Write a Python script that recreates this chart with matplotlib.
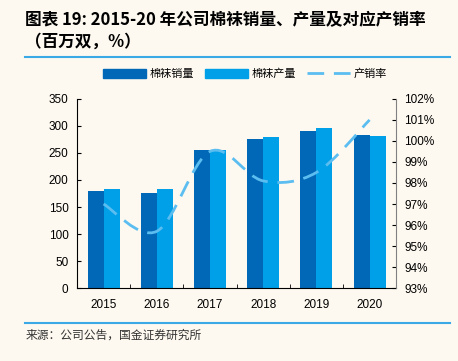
import matplotlib.pyplot as plt
import numpy as np
from matplotlib.path import Path
from matplotlib.patches import PathPatch
from matplotlib.lines import Line2D

plt.rcParams['font.family'] = ['Liberation Sans', 'Noto Sans CJK SC', 'DejaVu Sans']

years = ['2015', '2016', '2017', '2018', '2019', '2020']
sales = [180, 175, 255, 275, 291, 284]
output = [184, 184, 256, 280, 296, 282]
rate = [97.0, 95.7, 99.5, 98.1, 98.5, 101.0]

bg = '#fdf9f0'
c_sales = '#0068b7'
c_out = '#00a0e9'
c_rate = '#5bbdf0'

fig = plt.figure(figsize=(4.58, 3.61), dpi=100, facecolor=bg)
ax = fig.add_axes([0.168, 0.202, 0.697, 0.524], facecolor=bg)
ax2 = ax.twinx()

x = np.arange(len(years))
w = 0.3
ax.bar(x - w / 2, sales, w, color=c_sales, label='棉袜销量')
ax.bar(x + w / 2, output, w, color=c_out, label='棉袜产量')

ax.set_xlim(-0.5, len(years) - 0.5)
ax.set_ylim(0, 350)
ax.set_yticks(range(0, 351, 50))
ax.set_xticks(x)
ax.set_xticklabels(years)
ax.set_xticks(np.arange(0.5, len(years) - 1, 1), minor=True)
ax.tick_params(axis='x', which='major', length=0, pad=8, labelsize=8.5)
ax.tick_params(axis='x', which='minor', length=3, direction='in')
ax.tick_params(axis='y', length=3, direction='in', labelsize=8.5, pad=6)
for s in ['top', 'right']:
    ax.spines[s].set_visible(False)

# smooth rate line through the points (Catmull-Rom as cubic Bezier)
pts = np.column_stack([x, rate]).astype(float)
verts = [pts[0]]
codes = [Path.MOVETO]
for i in range(len(pts) - 1):
    p0 = pts[max(i - 1, 0)]
    p1 = pts[i]
    p2 = pts[i + 1]
    p3 = pts[min(i + 2, len(pts) - 1)]
    verts += [p1 + (p2 - p0) / 6, p2 - (p3 - p1) / 6, p2]
    codes += [Path.CURVE4] * 3
ax2.add_patch(PathPatch(Path(verts, codes), fill=False, edgecolor=c_rate,
                        lw=2, linestyle=(0, (6, 3.5))))
ax2.set_ylim(93, 102)
ax2.set_yticks(range(93, 103))
ax2.set_yticklabels([f'{v}%' for v in range(93, 103)])
ax2.tick_params(axis='y', length=3, direction='in', labelsize=8.5, pad=6)
for s in ['top', 'left', 'bottom']:
    ax2.spines[s].set_visible(False)
ax2.spines['right'].set_color('#808080')

handles = [plt.Rectangle((0, 0), 1, 1, color=c_sales),
           plt.Rectangle((0, 0), 1, 1, color=c_out),
           Line2D([0], [0], color=c_rate, lw=2, linestyle=(0, (6, 3.5)))]
fig.legend(handles, ['棉袜销量', '棉袜产量', '产销率'], loc='center',
           bbox_to_anchor=(0.535, 0.795), ncol=3, frameon=False,
           handlelength=3.9, handleheight=0.8,
           columnspacing=1.0, handletextpad=0.3,
           prop={'family': ['Noto Sans CJK SC'], 'size': 8})

fig.text(0.055, 0.945, '图表 19: 2015-20 年公司棉袜销量、产量及对应产销率',
         fontsize=12, fontweight='bold', style='italic',
         family=['Noto Sans CJK SC'], va='center')
fig.text(0.055, 0.884, '（百万双，%）', fontsize=12, fontweight='bold',
         style='italic', family=['Noto Sans CJK SC'], va='center')
fig.add_artist(Line2D([0.055, 0.983], [0.842, 0.842], color='#3aa9e6', lw=1.5))
fig.add_artist(Line2D([0.055, 0.983], [0.105, 0.105], color='#3aa9e6', lw=1.5))
fig.text(0.055, 0.072, '来源：公司公告，国金证券研究所', fontsize=8.5,
         family=['Noto Sans CJK SC'], va='center', color='#333333')

fig.savefig('out.png', dpi=100, facecolor=bg)
